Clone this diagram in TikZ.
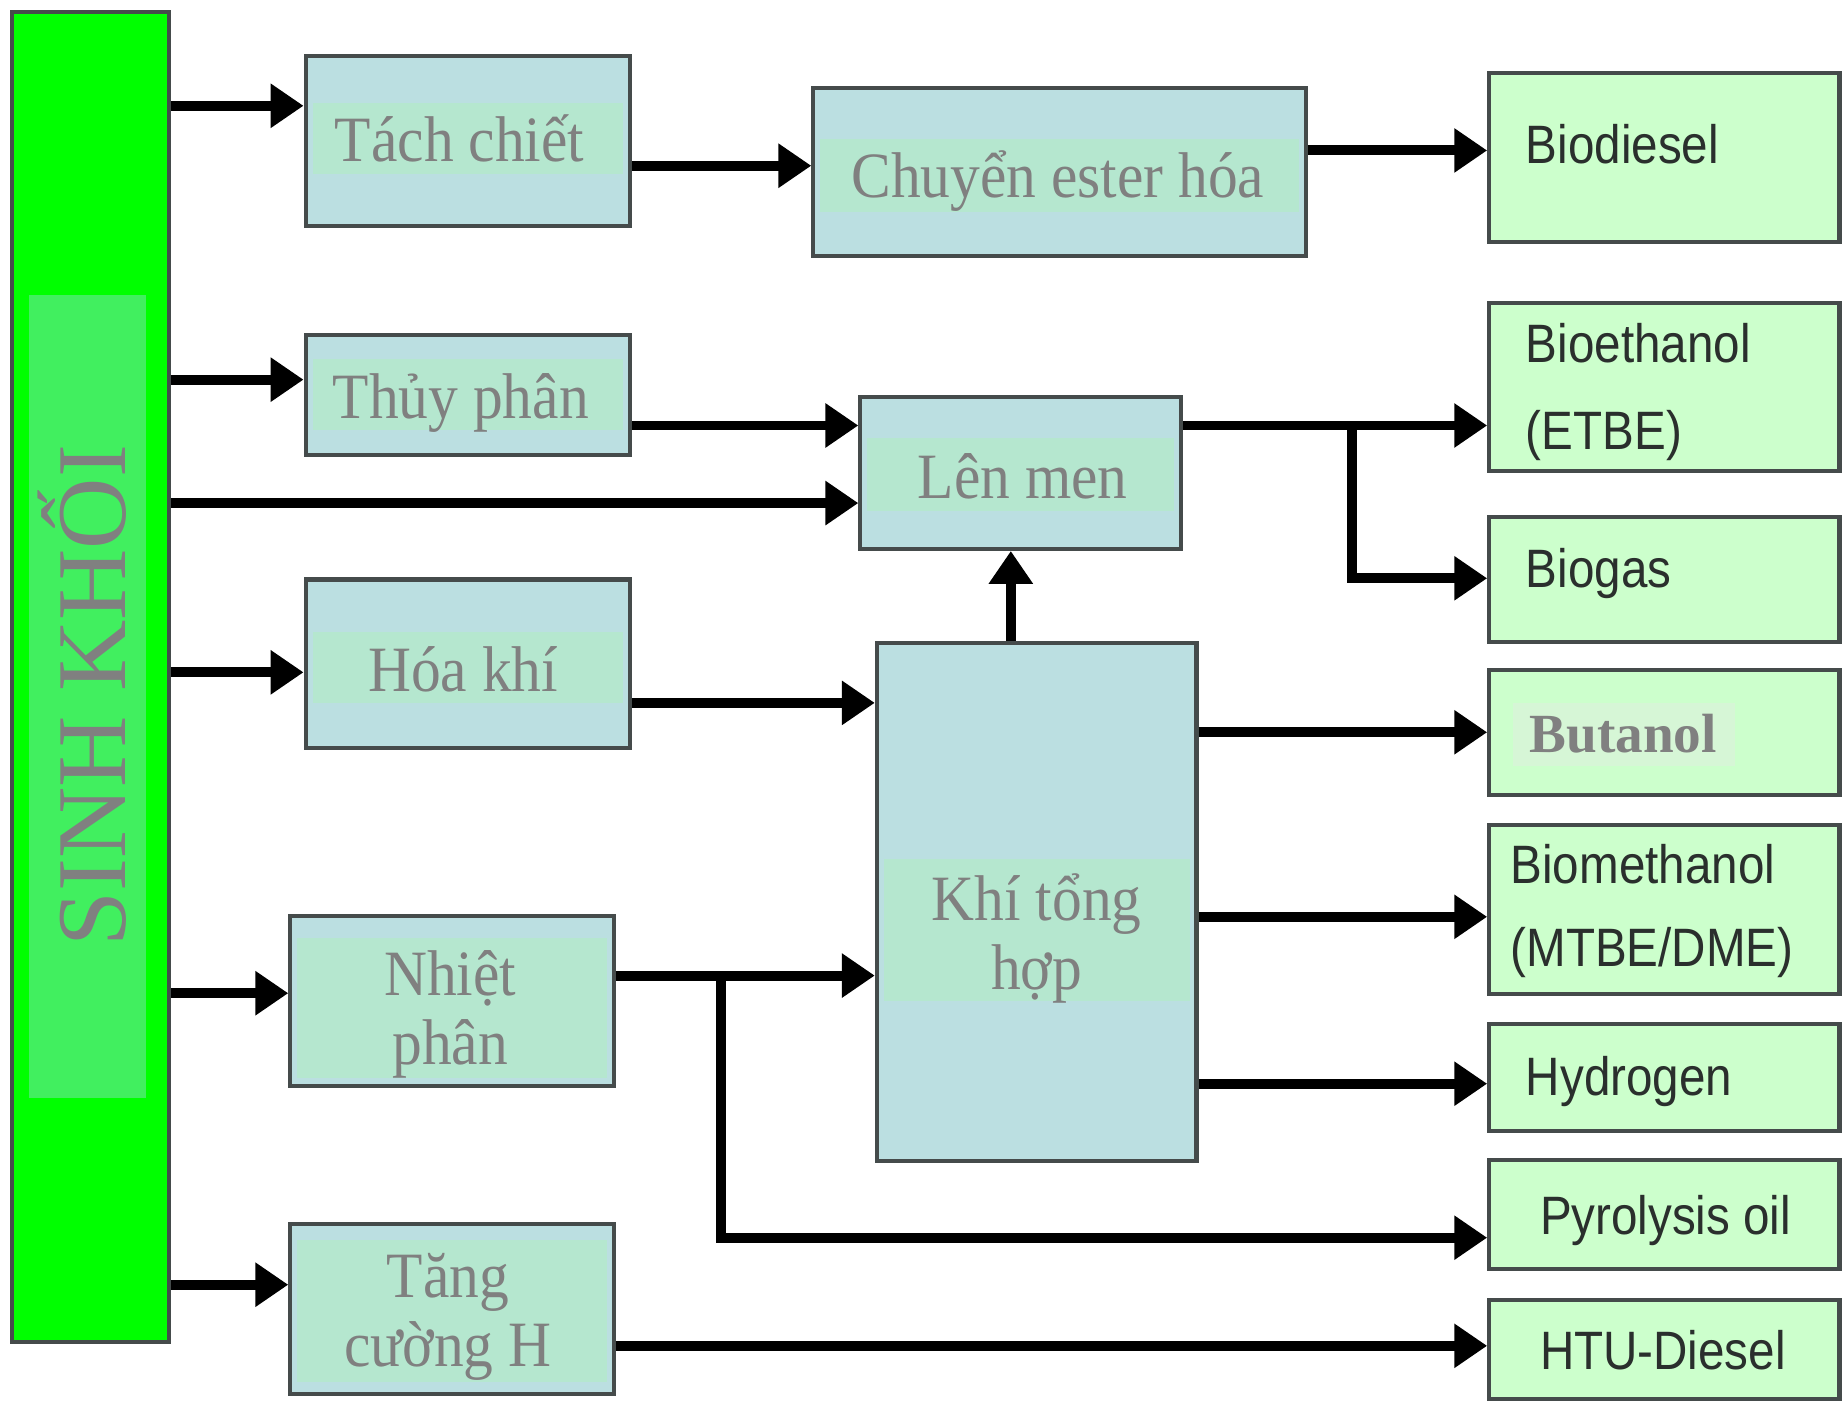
\documentclass[tikz,border=0pt]{standalone}
\usepackage{fontspec}
\setmainfont{Liberation Serif}
\newfontfamily\serifn[FakeStretch=0.92]{Liberation Serif}
\newfontfamily\sansn[FakeStretch=0.88]{Liberation Sans}
\usetikzlibrary{arrows.meta}
\definecolor{boxblue}{HTML}{BBDFE1}
\definecolor{boxband}{HTML}{B5E7CF}
\definecolor{prodgreen}{HTML}{CCFFCC}
\definecolor{txtgray}{HTML}{808080}
\definecolor{edge}{HTML}{454B4B}
\definecolor{barinner}{HTML}{41EF5F}
\definecolor{bargreen}{HTML}{00FF00}
\definecolor{prodtext}{HTML}{2A2F2D}
\definecolor{butlight}{HTML}{D6F6D6}
\begin{document}
\begin{tikzpicture}[x=1pt,y=-1pt,
 procbox/.style={draw=edge, line width=3.5pt, fill=boxblue, inner sep=0pt},
 prodbox/.style={draw=edge, line width=3.5pt, fill=prodgreen, inner sep=0pt},
 band/.style={fill=boxband, draw=none},
 stxt/.style={text=txtgray, font=\serifn\fontsize{55}{59}\selectfont, inner sep=0pt, anchor=base, align=center},
 ptxt/.style={text=prodtext, font=\sansn\fontsize{46}{50}\selectfont, inner sep=0pt, anchor=base west},
 arr/.style={line width=8.5pt, -{Triangle[length=28pt,width=36pt]}},
 ln/.style={line width=8.5pt}
]
\useasboundingbox (0,0) rectangle (1568,1192);
\fill[white] (0,0) rectangle (1568,1192);

% biomass bar
\node[draw=edge, line width=3.5pt, fill=bargreen, minimum width=134pt, minimum height=1132pt] (bar) at (77,576) {};
\fill[barinner] (25,251) rectangle (124,934);
\node[rotate=90, anchor=base, inner sep=0pt, text=txtgray, font=\fontsize{84}{90}\selectfont] (tbar) at (107,592) {SINH KHỐI};

% process boxes
\node[procbox, minimum width=276pt, minimum height=144pt] (tach) at (398,120) {};
\node[procbox, minimum width=419pt, minimum height=143pt] (chuyen) at (901.5,146.5) {};
\node[procbox, minimum width=276pt, minimum height=102pt] (thuy) at (398,336) {};
\node[procbox, minimum width=273pt, minimum height=129pt] (lenmen) at (868.5,402.5) {};
\node[procbox, minimum width=276pt, minimum height=143pt] (hoakhi) at (398,564.5) {};
\node[procbox, minimum width=272pt, minimum height=441pt] (khi) at (882,767.5) {};
\node[procbox, minimum width=275pt, minimum height=145pt] (nhiet) at (384.5,851.5) {};
\node[procbox, minimum width=275pt, minimum height=145pt] (tang) at (384.5,1113.5) {};

% bands
\fill[band] (266,88) rectangle (530,148);
\fill[band] (698,118) rectangle (1105,180);
\fill[band] (266,305) rectangle (530,366);
\fill[band] (738,373) rectangle (999,435);
\fill[band] (266,538) rectangle (530,598);
\fill[band] (752,731) rectangle (1012,852);
\fill[band] (253,798) rectangle (516,917);
\fill[band] (253,1055) rectangle (516,1176);

% process texts
\node[stxt] (ttach) at (391,137) {Tách chiết};
\node[stxt] (tchuyen) at (900,168) {Chuyển ester hóa};
\node[stxt] (tthuy) at (392,356) {Thủy phân};
\node[stxt] (tlen) at (870,424) {Lên men};
\node[stxt] (thoa) at (394,588) {Hóa khí};
\node[stxt] (tkhi) at (882,842) {Khí tổng\\hợp};
\node[stxt] (tnhiet) at (383,906) {Nhiệt\\phân};
\node[stxt] (ttang) at (381,1163) {Tăng\\cường H};

% product boxes
\node[prodbox, minimum width=298pt, minimum height=144pt] (biodiesel) at (1416,134) {};
\node[prodbox, minimum width=298pt, minimum height=143pt] (bioeth) at (1416,329.5) {};
\node[prodbox, minimum width=298pt, minimum height=106pt] (biogas) at (1416,493) {};
\node[prodbox, minimum width=298pt, minimum height=106pt] (butanol) at (1416,623) {};
\node[prodbox, minimum width=298pt, minimum height=144pt] (biometh) at (1416,774) {};
\node[prodbox, minimum width=298pt, minimum height=91pt] (hydrogen) at (1416,916.5) {};
\node[prodbox, minimum width=298pt, minimum height=93pt] (pyro) at (1416,1033.5) {};
\node[prodbox, minimum width=298pt, minimum height=84pt] (htu) at (1416,1148) {};
\fill[butlight] (1287,598) rectangle (1476,652);

% product texts
\node[ptxt] (tbiod) at (1298,139) {Biodiesel};
\node[ptxt] (tbioe1) at (1298,308) {Bioethanol};
\node[ptxt] (tbioe2) at (1298,382) {(ETBE)};
\node[ptxt] (tbiog) at (1298,500) {Biogas};
\node[anchor=base, inner sep=0pt, text=txtgray, font=\bfseries\fontsize{47}{50}\selectfont] (tbut) at (1381,640) {Butanol};
\node[ptxt] (tbiom1) at (1285,752) {Biomethanol};
\node[ptxt] (tbiom2) at (1285,822) {(MTBE/DME)};
\node[ptxt] (thyd) at (1298,932) {Hydrogen};
\node[ptxt] (tpyro) at (1310,1050) {Pyrolysis oil};
\node[ptxt] (thtu) at (1310,1165) {HTU-Diesel};

% row coordinates
\coordinate (r90) at (0,90);
\coordinate (r323) at (0,323);
\coordinate (r428) at (0,428);
\coordinate (r572) at (0,572);
\coordinate (r845) at (0,845);
\coordinate (r1093) at (0,1093);
\coordinate (r141) at (0,141);
\coordinate (r128) at (0,128);
\coordinate (r362) at (0,362);
\coordinate (r492) at (0,492);
\coordinate (r598) at (0,598);
\coordinate (r830) at (0,830);
\coordinate (r1053) at (0,1053);
\coordinate (r623) at (0,623);
\coordinate (r780) at (0,780);
\coordinate (r922) at (0,922);
\coordinate (r1145) at (0,1145);
\coordinate (j1) at (1150,362);
\coordinate (j2) at (613,830);
\coordinate (c860) at (860,0);

% connectors from biomass
\draw[arr] (bar.east |- r90) -- (tach.west |- r90);
\draw[arr] (bar.east |- r323) -- (thuy.west |- r323);
\draw[arr] (bar.east |- r428) -- (lenmen.west |- r428);
\draw[arr] (bar.east |- r572) -- (hoakhi.west |- r572);
\draw[arr] (bar.east |- r845) -- (nhiet.west |- r845);
\draw[arr] (bar.east |- r1093) -- (tang.west |- r1093);

% other connectors
\draw[arr] (tach.east |- r141) -- (chuyen.west |- r141);
\draw[arr] (chuyen.east |- r128) -- (biodiesel.west |- r128);
\draw[arr] (thuy.east |- r362) -- (lenmen.west |- r362);
\draw[arr] (lenmen.east |- r362) -- (bioeth.west |- r362);
\draw[arr] (j1) |- (biogas.west |- r492);
\draw[arr] (hoakhi.east |- r598) -- (khi.west |- r598);
\draw[arr] (khi.north -| c860) -- (lenmen.south -| c860);
\draw[arr] (nhiet.east |- r830) -- (khi.west |- r830);
\draw[arr] (j2) |- (pyro.west |- r1053);
\draw[arr] (khi.east |- r623) -- (butanol.west |- r623);
\draw[arr] (khi.east |- r780) -- (biometh.west |- r780);
\draw[arr] (khi.east |- r922) -- (hydrogen.west |- r922);
\draw[arr] (tang.east |- r1145) -- (htu.west |- r1145);
\end{tikzpicture}
\end{document}
